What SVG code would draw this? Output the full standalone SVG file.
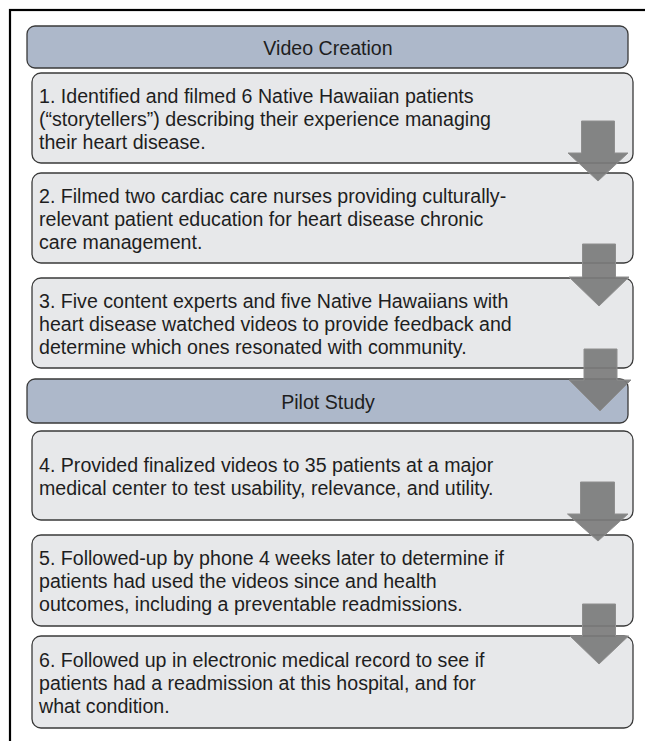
<svg xmlns="http://www.w3.org/2000/svg" width="645" height="741" viewBox="0 0 645 741">
<style>
.hdr{fill:#adb8ca;stroke:#3a3a3a;stroke-width:1.3}
.box{fill:#e7e8ea;stroke:#3a3a3a;stroke-width:1.3}
.t{font-family:"Liberation Sans",Arial,sans-serif;font-size:19.6px;fill:#1e1e1e}
.h{font-family:"Liberation Sans",Arial,sans-serif;font-size:19.6px;fill:#1e1e1e;text-anchor:middle}
.arr{fill:#7b7b7b;fill-opacity:0.92;stroke:#8e8e8e;stroke-width:1}
</style>
<rect x="0" y="0" width="645" height="741" fill="#ffffff"/>
<rect x="10" y="10" width="660" height="760" fill="none" stroke="#000" stroke-width="2.2"/>
<g id="header-video-creation">
<rect class="hdr" x="27" y="26" width="601" height="42" rx="8"/>
<text class="h" x="328" y="54.5">Video Creation</text>
</g>
<g id="step1">
<rect class="box" x="32" y="73" width="601" height="90" rx="9"/>
<text class="t" x="39" y="102.5">1. Identified and filmed 6 Native Hawaiian patients</text>
<text class="t" x="39" y="125.5">(“storytellers”) describing their experience managing</text>
<text class="t" x="39" y="148.5">their heart disease.</text>
</g>
<g id="step2">
<rect class="box" x="32" y="173" width="601" height="90" rx="9"/>
<text class="t" x="39" y="202.5">2. Filmed two cardiac care nurses providing culturally-</text>
<text class="t" x="39" y="225.5">relevant patient education for heart disease chronic</text>
<text class="t" x="39" y="248.5">care management.</text>
</g>
<g id="step3">
<rect class="box" x="32" y="278" width="601" height="90" rx="9"/>
<text class="t" x="39" y="307.5">3. Five content experts and five Native Hawaiians with</text>
<text class="t" x="39" y="330.5">heart disease watched videos to provide feedback and</text>
<text class="t" x="39" y="353.5">determine which ones resonated with community.</text>
</g>
<g id="header-pilot-study">
<rect class="hdr" x="27" y="379" width="601" height="44" rx="8"/>
<text class="h" x="328" y="408.5">Pilot Study</text>
</g>
<g id="step4">
<rect class="box" x="32" y="431" width="601" height="89" rx="9"/>
<text class="t" x="39" y="471.5">4. Provided finalized videos to 35 patients at a major</text>
<text class="t" x="39" y="494.5">medical center to test usability, relevance, and utility.</text>
</g>
<g id="step5">
<rect class="box" x="32" y="535" width="601" height="91" rx="9"/>
<text class="t" x="39" y="565">5. Followed-up by phone 4 weeks later to determine if</text>
<text class="t" x="39" y="588">patients had used the videos since and health</text>
<text class="t" x="39" y="611">outcomes, including a preventable readmissions.</text>
</g>
<g id="step6">
<rect class="box" x="32" y="636" width="601" height="92" rx="9"/>
<text class="t" x="39" y="666.5">6. Followed up in electronic medical record to see if</text>
<text class="t" x="39" y="689.5">patients had a readmission at this hospital, and for</text>
<text class="t" x="39" y="712.5">what condition.</text>
</g>
<g id="connectors">
<polygon class="arr" points="581.5,121 614.5,121 614.5,153 628,153 598,181 568,153 581.5,153"/>
<polygon class="arr" points="582.5,244 615.5,244 615.5,277 629,277 599,306 569,277 582.5,277"/>
<polygon class="arr" points="584,349 617,349 617,380 631,380 600,411 569,380 584,380"/>
<polygon class="arr" points="580.5,482 614.5,482 614.5,514 628,514 598,541 567.5,514 580.5,514"/>
<polygon class="arr" points="582.5,604 615.5,604 615.5,636 628.5,636 599,664 570,636 582.5,636"/>
</g>
</svg>
